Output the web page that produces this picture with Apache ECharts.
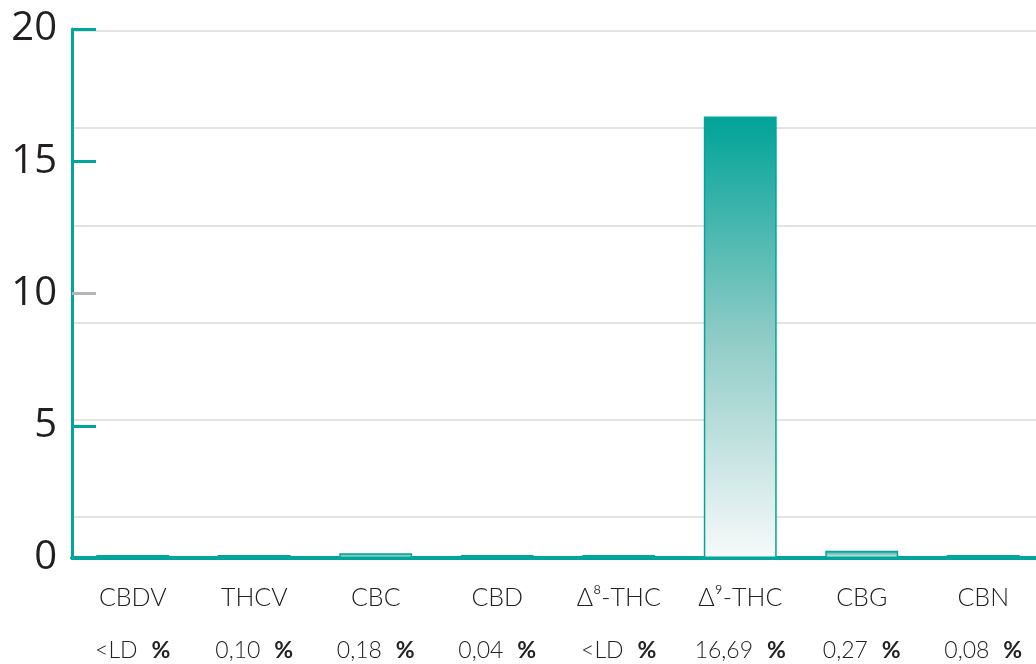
<!DOCTYPE html>
<html>
<head>
<meta charset="utf-8">
<script src="https://cdn.jsdelivr.net/npm/echarts@6/dist/echarts.min.js"></script>
<style>
  html, body { margin: 0; padding: 0; background: #fff; overflow: hidden; }
  #chart { width: 1048px; height: 664px; }
</style>
</head>
<body>
<div id="chart"></div>
<script>
// chart data
const categories = ['CBDV', 'THCV', 'CBC', 'CBD', 'Δ⁸-THC', 'Δ⁹-THC', 'CBG', 'CBN'];
const valueLabels = ['<LD', '0,10', '0,18', '0,04', '<LD', '16,69', '0,27', '0,08'];
const values = [0, 0.10, 0.18, 0.04, 0, 16.69, 0.27, 0.08];
const yTicks = [0, 5, 10, 15, 20];

const teal = '#00a59b';

const chart = echarts.init(document.getElementById('chart'));

var option = {
  animation: false,
  backgroundColor: '#fff',
  grid: [
    // main plot
    { left: 72, top: 29, height: 529, width: 972 },
    // background grid lines (not aligned with the ticks)
    { left: 72, top: 31, height: 486, width: 972 }
  ],
  xAxis: [
    {
      type: 'category',
      gridIndex: 0,
      data: categories,
      axisLine: { lineStyle: { color: teal, width: 4 } },
      axisTick: { show: false },
      axisLabel: {
        interval: 0,
        margin: 25,
        formatter: function (name, idx) {
          return '{n|' + name + '}\n{g| }\n{v|' + valueLabels[idx] + '}{p|%}';
        },
        rich: {
          n: { fontFamily: 'Lato', fontWeight: 300, fontSize: 25, color: '#222', lineHeight: 30 },
          g: { fontSize: 10, lineHeight: 23 },
          v: { fontFamily: 'Lato', fontWeight: 300, fontSize: 23, color: '#222', lineHeight: 30 },
          p: { fontFamily: 'Lato', fontSize: 23, fontWeight: 'bold', color: '#222', lineHeight: 30, padding: [0, 0, 0, 14] }
        }
      }
    },
    {
      type: 'category',
      gridIndex: 1,
      data: categories,
      show: false
    }
  ],
  yAxis: [
    {
      type: 'value',
      gridIndex: 0,
      position: 'left',
      min: yTicks[0],
      max: yTicks[yTicks.length - 1],
      interval: 5,
      axisLine: { show: true, lineStyle: { color: teal, width: 3 } },
      axisTick: {
        show: true,
        inside: true,
        length: 24,
        customValues: [0, 5, 15, 20],
        lineStyle: { color: teal, width: 3 }
      },
      axisLabel: {
        margin: 15,
        fontFamily: 'Open Sans',
        fontSize: 40,
        color: '#231f20'
      },
      splitLine: { show: false },
      z: 3
    },
    {
      // gray tick at 10
      type: 'value',
      gridIndex: 0,
      position: 'left',
      min: yTicks[0],
      max: yTicks[yTicks.length - 1],
      interval: 5,
      axisLine: { show: false },
      axisTick: {
        show: true,
        inside: true,
        length: 24,
        customValues: [10],
        lineStyle: { color: '#b5b5b5', width: 3 }
      },
      axisLabel: { show: false },
      splitLine: { show: false },
      z: 3
    },
    {
      type: 'value',
      gridIndex: 1,
      min: 0,
      max: 5,
      interval: 1,
      axisLine: { show: false },
      axisTick: { show: false },
      axisLabel: { show: false },
      splitLine: { show: true, lineStyle: { color: '#e3e3e3', width: 2 } }
    }
  ],
  series: [
    {
      type: 'bar',
      xAxisIndex: 0,
      yAxisIndex: 0,
      data: values,
      barWidth: '60%',
      barMinHeight: 3,
      itemStyle: {
        color: new echarts.graphic.LinearGradient(0, 0, 0, 1, [
          { offset: 0, color: '#00a398' },
          { offset: 0.5, color: '#8fcbc6' },
          { offset: 1, color: '#f7fafa' }
        ]),
        borderColor: teal,
        borderWidth: 1.5
      }
    }
  ]
};

chart.setOption(option);
</script>
</body>
</html>
